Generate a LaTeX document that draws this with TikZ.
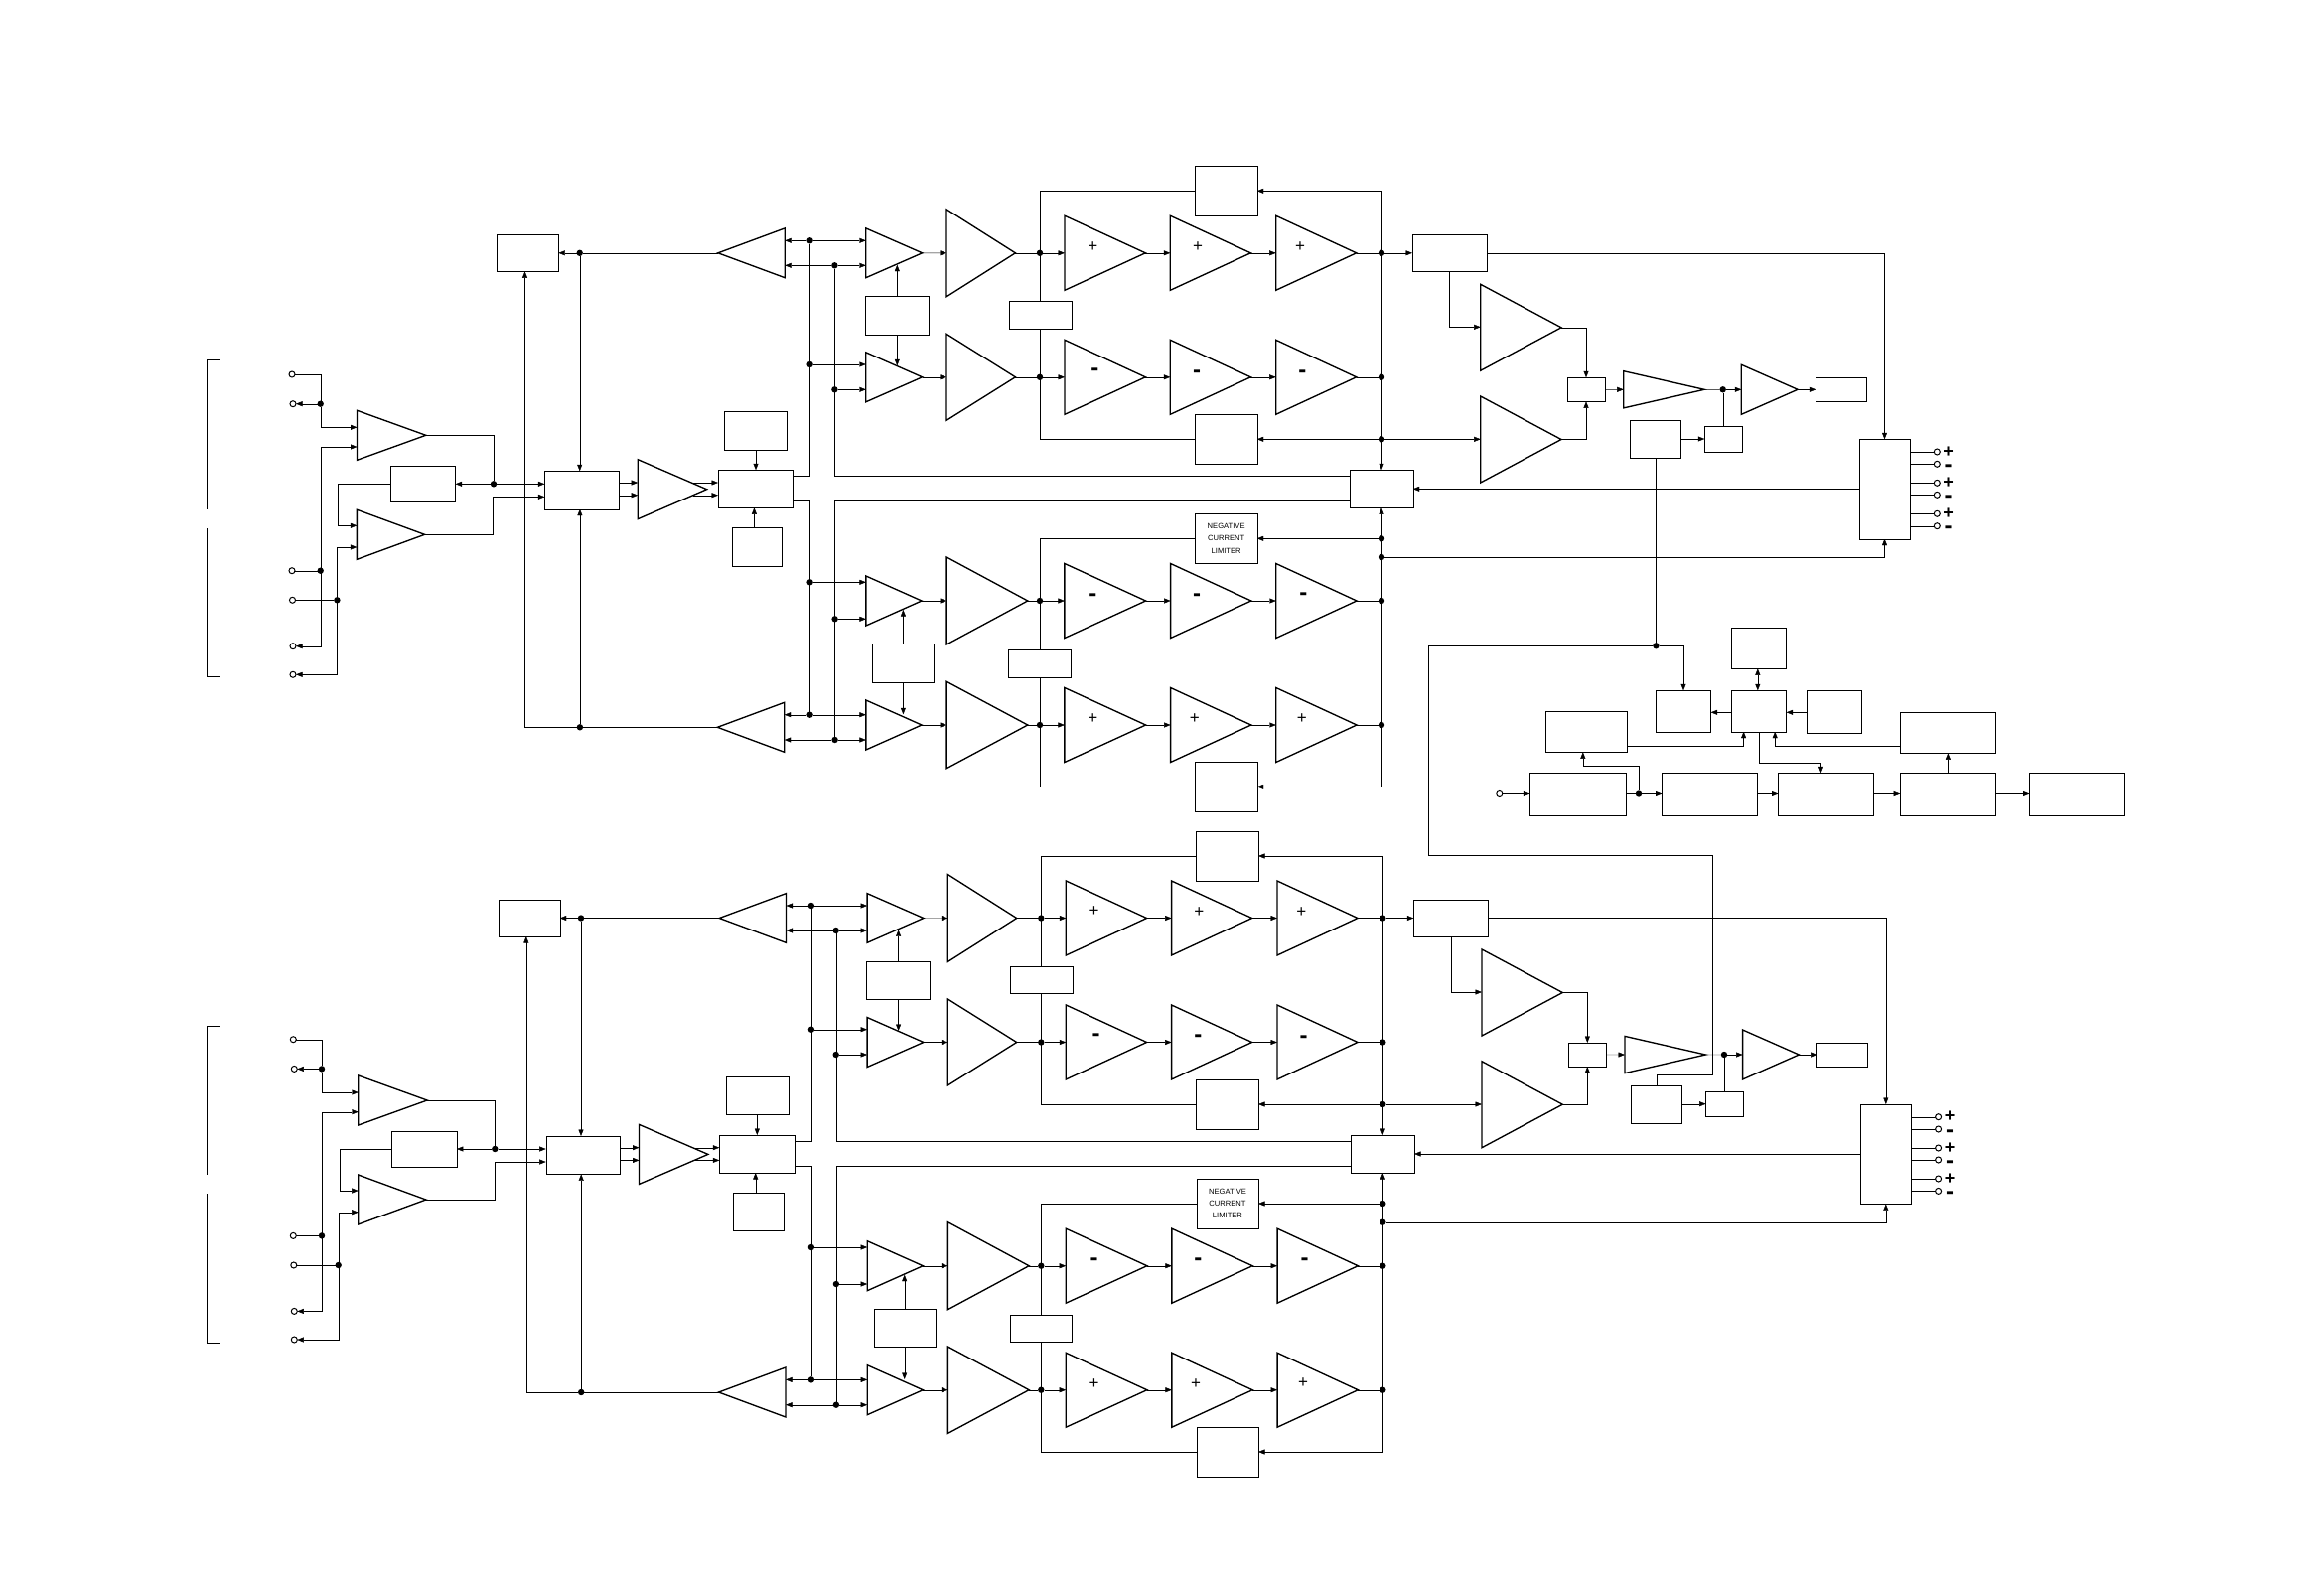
\documentclass[tikz,border=0pt]{standalone}
\usepackage{fontspec}
\setmainfont{Liberation Sans}
\usetikzlibrary{arrows.meta}
\pgfdeclarelayer{wires}
\pgfsetlayers{wires,main}
\tikzset{
  arw/.style={-{Triangle[length=6.5pt,width=5pt]}},
  rarw/.style={{Triangle[length=6.5pt,width=5pt]}-},
  barw/.style={{Triangle[length=6.5pt,width=5pt]}-{Triangle[length=6.5pt,width=5pt]}},
  blk/.style={draw,fill=white,inner sep=0pt,outer sep=0pt},
  ampn/.style={inner sep=0pt,outer sep=0pt},
  tri/.style={line join=miter,line width=1.35pt},
  jdot/.style={circle,fill=black,inner sep=0pt,outer sep=0pt,minimum size=6.4pt},
  tml/.style={circle,draw,fill=white,inner sep=0pt,outer sep=0pt,minimum size=6pt,line width=1pt},
  plusn/.style={inner sep=0pt,font=\fontsize{17}{17}\selectfont,yshift=-.5pt},
  minusn/.style={inner sep=0pt,font=\fontsize{24}{24}\selectfont\bfseries,yshift=-2pt},
  oplus/.style={inner sep=0pt,font=\fontsize{18}{18}\selectfont\bfseries},
  ominus/.style={inner sep=0pt,font=\fontsize{24}{24}\selectfont\bfseries,yshift=-2pt},
  negtxt/.style={align=center,font=\fontsize{7.6}{12.3}\selectfont},
}
\newcommand{\bx}[5]{\node[blk,minimum width={#4-#2},minimum height={#5-#3}] (#1) at ({(#2+#4)/2},{(#3+#5)/2}) {};}
\newcommand{\ampr}[5]{\node[ampn,minimum width={#5-#2},minimum height={#4-#3}] (#1) at ({(#2+#5)/2},{(#3+#4)/2}) {};
  \draw[tri] (#1.north west) -- (#1.east) -- (#1.south west) -- cycle;}
\newcommand{\ampl}[5]{\node[ampn,minimum width={#5-#2},minimum height={#4-#3}] (#1) at ({(#2+#5)/2},{(#3+#4)/2}) {};
  \draw[tri] (#1.north east) -- (#1.west) -- (#1.south east) -- cycle;}
\newcommand{\chan}[1]{%
  % input section
  \node[tml] (#1t1) at (294,377) {};
  \node[tml] (#1t2) at (295,406.7) {};
  \node[tml] (#1t3) at (294,574.7) {};
  \node[tml] (#1t4) at (294.5,604.3) {};
  \node[tml] (#1t5) at (295,650.7) {};
  \node[tml] (#1t6) at (295,679.3) {};
  \node[jdot] (#1j1) at (322.7,406.7) {};
  \node[jdot] (#1j2) at (322.7,574.7) {};
  \node[jdot] (#1j3) at (339.4,604.3) {};
  \node[jdot] (#1j4) at (497,487.3) {};
  \ampr{#1a1}{359.5}{413.3}{463.3}{428.8}
  \ampr{#1a2}{359.4}{513.3}{563.3}{427.6}
  \bx{#1fb}{393.3}{469.3}{458.6}{505.3}
  \bx{#1mx}{548.4}{474.3}{622.7}{512.7}
  \ampr{#1a3}{642.2}{462.7}{522.7}{711.6}
  \bx{#1m2}{723}{473.3}{798.6}{511.3}
  \bx{#1ba}{729.6}{414.3}{792.4}{452.7}
  \bx{#1bb}{737.3}{531.3}{787.6}{569.7}
  \bx{#1tb}{500.4}{236.3}{562.4}{273.3}
  \ampl{#1u1}{722.9}{229.9}{279.7}{790.2}
  \ampl{#1u2}{722.3}{707.3}{757.3}{789.7}
  \node[jdot] (#1j5) at (583.7,254.8) {};
  \node[jdot] (#1j6) at (583.9,732.3) {};
  \node[jdot] (#1j7) at (815.6,242.3) {};
  \node[jdot] (#1j8) at (840.4,267.3) {};
  \node[jdot] (#1j9) at (815.6,367) {};
  \node[jdot] (#1j10) at (840.4,392.3) {};
  % upper half
  \ampr{#1A}{871.8}{229.9}{279.7}{928.6}
  \ampr{#1B}{871.8}{354.8}{404.8}{928.6}
  \ampr{#1C}{953}{210.8}{298.8}{1022.4}
  \ampr{#1D}{953}{336.3}{423.3}{1022.4}
  \bx{#1cA}{871}{298.3}{934.7}{336.7}
  \bx{#1gA}{1016.3}{303.3}{1078.8}{330.7}
  \bx{#1bt}{1203.3}{167.3}{1265.7}{217.3}
  \bx{#1bu}{1203.3}{417.3}{1265.7}{467.3}
  \node[jdot] (#1j11) at (1047,254.8) {};
  \node[jdot] (#1j12) at (1047,379.8) {};
  \node[jdot] (#1j13) at (1391,254.8) {};
  \node[jdot] (#1j14) at (1391,379.8) {};
  \node[jdot] (#1j15) at (1391,442.3) {};
  \ampr{#1P1}{1072}{217.3}{292.3}{1153.3}
  \ampr{#1P2}{1178.3}{217.3}{292.3}{1259.3}
  \ampr{#1P3}{1284.7}{217.3}{292.3}{1365.7}
  \ampr{#1N1}{1072}{342.3}{417.3}{1153.3}
  \ampr{#1N2}{1178.3}{342.3}{417.3}{1259.3}
  \ampr{#1N3}{1284.7}{342.3}{417.3}{1365.7}
  \node[plusn] (#1s1) at (1100.3,247.7) {+};
  \node[plusn] (#1s2) at (1206,248) {+};
  \node[plusn] (#1s3) at (1309,248) {+};
  \node[minusn] (#1s4) at (1102.3,373) {-};
  \node[minusn] (#1s5) at (1205,374.3) {-};
  \node[minusn] (#1s6) at (1311.3,375) {-};
  % right end
  \bx{#1rb}{1422}{236.3}{1497.3}{273.3}
  \ampr{#1E}{1490.7}{286.3}{373.3}{1572}
  \ampr{#1F}{1490.7}{399}{486}{1572}
  \bx{#1S}{1578.3}{380.3}{1615.7}{404.3}
  \ampr{#1K}{1634.7}{373.7}{410.9}{1716}
  \ampr{#1L}{1753.3}{367.3}{417.3}{1810}
  \node[jdot] (#1j16) at (1734.7,392.3) {};
  \bx{#1oa}{1828.3}{380.3}{1878.7}{404.3}
  \bx{#1sm}{1716.3}{429.3}{1753.7}{454.7}
  \bx{#1br}{1641.3}{423.3}{1691.7}{461.3}
  \bx{#1ob}{1872.3}{442.3}{1922.7}{542.7}
  \bx{#1M}{1359.3}{473.3}{1422.7}{511.3}
  \node[tml] (#1o1) at (1950.3,455) {};
  \node[tml] (#1o2) at (1950.3,467.3) {};
  \node[tml] (#1o3) at (1950.3,486.3) {};
  \node[tml] (#1o4) at (1950.3,498.3) {};
  \node[tml] (#1o5) at (1950.3,517.3) {};
  \node[tml] (#1o6) at (1950.3,529.7) {};
  \node[oplus] (#1q1) at (1961.7,455) {+};
  \node[ominus] (#1q2) at (1961.7,469.7) {-};
  \node[oplus] (#1q3) at (1961.7,486.3) {+};
  \node[ominus] (#1q4) at (1961.7,501) {-};
  \node[oplus] (#1q5) at (1961.7,517.3) {+};
  \node[ominus] (#1q6) at (1961.7,531.7) {-};
  % lower half
  \ampr{#1G}{871.9}{580}{630}{928}
  \ampr{#1H}{871.9}{705}{755}{928}
  \ampr{#1I}{953.1}{561}{649}{1034.8}
  \ampr{#1J}{953.1}{686.3}{773.7}{1034.8}
  \bx{#1cB}{878.6}{648.3}{940.6}{686.7}
  \bx{#1gB}{1015.6}{654.3}{1077.7}{681.7}
  \node[blk,negtxt,minimum width=62.1pt,minimum height=50pt] (#1nb) at (1234.65,542.3) {NEGATIVE\\CURRENT\\LIMITER};
  \bx{#1bv}{1203.6}{767.3}{1265.7}{817.3}
  \ampr{#1Q1}{1071.9}{567.5}{642.5}{1153.6}
  \ampr{#1Q2}{1178.6}{567.5}{642.5}{1259.8}
  \ampr{#1Q3}{1284.8}{567.5}{642.5}{1366}
  \ampr{#1W1}{1071.9}{692.5}{767.5}{1153.6}
  \ampr{#1W2}{1178.6}{692.5}{767.5}{1259.8}
  \ampr{#1W3}{1284.8}{692.5}{767.5}{1366}
  \node[minusn] (#1s7) at (1100.4,599.3) {-};
  \node[minusn] (#1s8) at (1205,599.3) {-};
  \node[minusn] (#1s9) at (1312.4,598.7) {-};
  \node[plusn] (#1s10) at (1100.4,723.3) {+};
  \node[plusn] (#1s11) at (1202.7,723.3) {+};
  \node[plusn] (#1s12) at (1310.8,722.7) {+};
  \node[jdot] (#1j17) at (1391,542.3) {};
  \node[jdot] (#1j18) at (1391,561) {};
  \node[jdot] (#1j19) at (1391,605) {};
  \node[jdot] (#1j20) at (1391,730) {};
  \node[jdot] (#1j21) at (1047,605) {};
  \node[jdot] (#1j22) at (1047,730) {};
  \node[jdot] (#1j23) at (815.6,586.3) {};
  \node[jdot] (#1j24) at (840.6,623.3) {};
  \node[jdot] (#1j25) at (815.6,719.7) {};
  \node[jdot] (#1j26) at (840.6,745) {};
  \begin{pgfonlayer}{wires}
    % inputs
    \draw (#1t1) -| (#1j1);
    \draw[arw] (#1j1) -- (#1t2);
    \draw[arw] (#1j1) |- (#1a1.west |- 0,430.3);
    \draw[barw] (#1t5) -| (322.7,450) -- (#1a1.west |- 0,450);
    \draw (#1t3) -- (#1j2);
    \draw (#1t4) -- (#1j3);
    \draw[barw] (#1t6) -| (339.4,551) -- (#1a2.west |- 0,551);
    \draw[arw] (#1fb.west) -- (340.6,487.3) -- (340.6,529.3) -- (#1a2.west |- 0,529.3);
    \draw (#1a1.east) -| (#1j4);
    \draw[arw] (#1j4) -- (#1fb.east);
    \draw[arw] (#1j4) -- (#1mx.west |- #1j4);
    \draw[arw] (#1a2.east) -- (496.5,538.3) -- (496.5,500.3) -- (#1mx.west |- 0,500.3);
    \draw[arw] (#1mx.east |- 0,486) -- (#1a3.west |- 0,486);
    \draw[arw] (#1mx.east |- 0,498.7) -- (#1a3.west |- 0,498.7);
    \draw[arw] (698,486) -- (#1m2.west |- 0,486);
    \draw[arw] (698,498.7) -- (#1m2.west |- 0,498.7);
    \draw[arw] (#1ba.south) -- (#1ba.south |- #1m2.north);
    \draw[arw] (759.4,569.7) -- (759.4,511.3);
    % top and bottom splitters
    \draw[arw] (#1j5) -- (#1tb.east |- #1j5);
    \draw (#1u1.west |- #1j5) -- (#1j5);
    \draw[arw] (#1j5) -- (#1j5 |- #1mx.north);
    \draw (#1u2.west) -- (#1j6);
    \draw[arw] (#1j6) -- (#1j6 |- #1mx.south);
    \draw[arw] (#1j6) -- (528.5,732.3) -- (528.5,273.3);
    \draw[arw] (#1j7) -- (#1u1.east |- #1j7);
    \draw[arw] (#1j7) -- (#1A.west |- #1j7);
    \draw[arw] (#1j8) -- (#1u1.east |- #1j8);
    \draw[arw] (#1j8) -- (#1A.west |- #1j8);
    \draw[arw] (#1j9) -- (#1B.west |- #1j9);
    \draw[arw] (#1j10) -- (#1B.west |- #1j10);
    \draw (#1m2.east |- 0,479.3) -- (815.6,479.3) -- (#1j7);
    \draw (#1j8) -- (840.4,479.3) -- (#1M.west |- 0,479.3);
    \draw[arw] (903.3,298.3) -- (903.3,266.7);
    \draw[arw] (903.3,336.7) -- (903.3,368.3);
    \draw[arw] (#1A.east) -- (#1C.west);
    \draw[arw] (#1B.east) -- (#1D.west);
    \draw (#1C.east) -- (#1j11);
    \draw (#1D.east) -- (#1j12);
    \draw[arw] (#1j11) -- (#1P1.west);
    \draw[arw] (#1j12) -- (#1N1.west);
    \draw[arw] (#1P1.east) -- (#1P2.west);
    \draw[arw] (#1P2.east) -- (#1P3.west);
    \draw[arw] (#1N1.east) -- (#1N2.west);
    \draw[arw] (#1N2.east) -- (#1N3.west);
    \draw (#1P3.east) -- (#1j13);
    \draw (#1N3.east) -- (#1j14);
    \draw (#1bt.west) -- (1047,192.3) -- (1047,442.3) -- (#1bu.west);
    \draw[barw] (#1bt.east) -- (1391,192.3) -- (#1M.north);
    \draw[arw] (#1j15) -- (#1bu.east);
    \draw[arw] (#1j15) -- (#1F.west |- #1j15);
    \draw[arw] (#1j13) -- (#1rb.west);
    \draw[arw] (#1rb.south) |- (#1E.west |- 0,329.3);
    \draw[arw] (#1E.east) -| (#1S.north);
    \draw[arw] (#1F.east) -| (#1S.south);
    \draw[arw] (#1S.east) -- (#1K.west);
    \draw (#1K.east) -- (#1j16);
    \draw[arw] (#1j16) -- (#1L.west);
    \draw[arw] (#1L.east) -- (#1oa.west);
    \draw (#1j16 |- #1sm.north) -- (#1j16);
    \draw[arw] (#1br.east |- #1sm.west) -- (#1sm.west);
    \draw[arw] (#1rb.east) -| (#1ob.north);
    \draw[arw] (#1j18) -| (#1ob.south);
    \draw[arw] (#1ob.west |- #1M.east) -- (#1M.east);
    \draw (#1ob.east |- #1o1) -- (#1o1);
    \draw (#1ob.east |- #1o2) -- (#1o2);
    \draw (#1ob.east |- #1o3) -- (#1o3);
    \draw (#1ob.east |- #1o4) -- (#1o4);
    \draw (#1ob.east |- #1o5) -- (#1o5);
    \draw (#1ob.east |- #1o6) -- (#1o6);
    % lower half
    \draw (#1m2.east |- 0,504.3) -- (815.6,504.3) -- (#1j25);
    \draw (#1M.west |- 0,504.3) -- (840.6,504.3) -- (#1j26);
    \draw[arw] (#1j23) -- (#1G.west |- #1j23);
    \draw[arw] (#1j24) -- (#1G.west |- #1j24);
    \draw[arw] (#1j25) -- (#1H.west |- #1j25);
    \draw[arw] (#1j26) -- (#1H.west |- #1j26);
    \draw[arw] (#1j25) -- (#1u2.east |- #1j25);
    \draw[arw] (#1j26) -- (#1u2.east |- #1j26);
    \draw[arw] (909.4,648.3) -- (909.4,614);
    \draw[arw] (909.4,686.7) -- (909.4,719.3);
    \draw[arw] (#1G.east) -- (#1I.west);
    \draw[arw] (#1H.east) -- (#1J.west);
    \draw (#1I.east) -- (#1j21);
    \draw (#1J.east) -- (#1j22);
    \draw[arw] (#1j21) -- (#1Q1.west);
    \draw[arw] (#1j22) -- (#1W1.west);
    \draw[arw] (#1Q1.east) -- (#1Q2.west);
    \draw[arw] (#1Q2.east) -- (#1Q3.west);
    \draw[arw] (#1W1.east) -- (#1W2.west);
    \draw[arw] (#1W2.east) -- (#1W3.west);
    \draw (#1Q3.east) -- (#1j19);
    \draw (#1W3.east) -- (#1j20);
    \draw (#1nb.west) -- (1047,542.3) -- (1047,792.3) -- (#1bv.west);
    \draw[barw] (#1M.south) -- (1391,792.3) -- (#1bv.east);
    \draw[arw] (#1j17) -- (#1nb.east);
  \end{pgfonlayer}
}
\begin{document}
\begin{tikzpicture}[x=1pt,y=-1pt,line width=1.3pt]
  \useasboundingbox (0,0) rectangle (2340,1584);
  \begin{pgfonlayer}{wires}
    \fill[white] (0,0) rectangle (2340,1584);
  \end{pgfonlayer}
  % brackets
  \draw (221.8,362.3) -- (208.4,362.3) -- (208.4,512.7);
  \draw (208.4,532) -- (208.4,681.3) -- (221.8,681.3);
  \draw (221.8,1033.3) -- (208.4,1033.3) -- (208.4,1182.7);
  \draw (208.4,1202) -- (208.4,1352) -- (221.8,1352);
  \begin{scope}
    \chan{a}
  \end{scope}
  \begin{scope}[shift={(1.3,669.7)}]
    \chan{b}
  \end{scope}
  % central control section
  \node[jdot] (g0) at (1667.4,650.3) {};
  \bx{gA}{1667.4}{695.3}{1722.6}{736.7}
  \bx{gB}{1743.4}{695.3}{1798.6}{736.7}
  \bx{gC}{1743.4}{632.3}{1798.6}{673.3}
  \bx{gD}{1819.3}{695.3}{1874.6}{737.7}
  \bx{gE}{1556.5}{716.3}{1638.6}{757.3}
  \bx{gF}{1913.2}{717.3}{2009.5}{758.3}
  \bx{r1}{1540.4}{778.3}{1636.7}{820.7}
  \bx{r2}{1673.5}{778.3}{1769.3}{820.7}
  \bx{r3}{1790.5}{778.3}{1886.4}{820.7}
  \bx{r4}{1913.2}{778.3}{2009.5}{820.7}
  \bx{r5}{2043.5}{778.3}{2139.3}{820.7}
  \node[tml] (gt) at (1509.8,799.5) {};
  \node[jdot] (g1) at (1650,799.5) {};
  \begin{pgfonlayer}{wires}
    \draw (abr.south -| g0) -- (g0);
    \draw[arw] (g0) -| (gA.north);
    \draw (g0) -- (1438.5,650.3) -- (1438.5,861.3) -- (1724.5,861.3) -- (1724.5,1082.3) -- (bbr.north |- 0,1082.3) -- (bbr.north);
    \draw[barw] (gB.north -| 1769.8,0) -- (gC.south -| 1769.8,0);
    \draw[arw] (gD.west |- 0,717.3) -- (gB.east |- 0,717.3);
    \draw[arw] (gB.west |- 0,717.3) -- (gA.east |- 0,717.3);
    \draw[arw] (gE.east |- 0,751.3) -- (1755.6,751.3) -- (1755.6,736.7);
    \draw[arw] (gF.west |- 0,751.3) -- (1787.2,751.3) -- (1787.2,736.7);
    \draw[arw] (gt) -- (r1.west |- gt);
    \draw (r1.east |- g1) -- (g1);
    \draw[arw] (g1) -- (r2.west |- g1);
    \draw[arw] (g1) |- (1593.8,771.3) -- (1593.8,757.3);
    \draw[arw] (r2.east) -- (r3.west);
    \draw[arw] (r3.east) -- (r4.west);
    \draw[arw] (r4.east) -- (r5.west);
    \draw[arw] (r4.north) -- (gF.south);
    \draw[arw] (1770.7,736.7) -- (1770.7,768.3) -- (1833.5,768.3) -- (1833.5,778.3);
  \end{pgfonlayer}
\end{tikzpicture}
\end{document}
